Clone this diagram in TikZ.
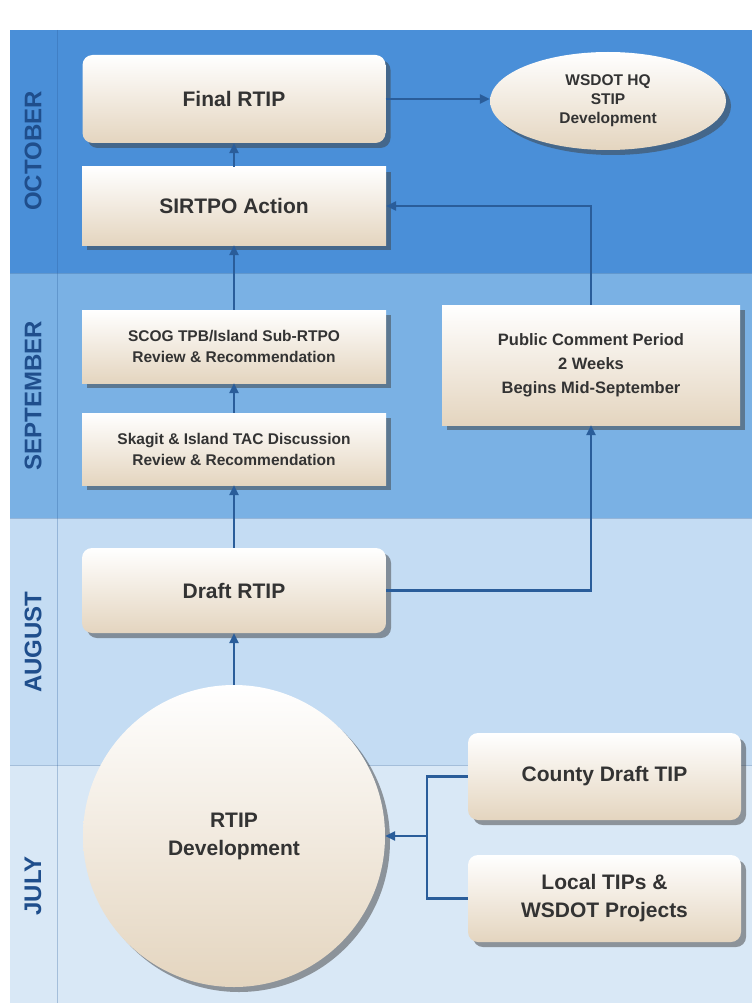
\documentclass[tikz,border=0pt]{standalone}
\usepackage{fontspec}
\setmainfont{Liberation Sans}
\usetikzlibrary{positioning,arrows.meta,shapes.geometric,shadows}
\definecolor{octblue}{HTML}{4A8FD8}
\definecolor{sepblue}{HTML}{7AB1E4}
\definecolor{augblue}{HTML}{C4DCF3}
\definecolor{julblue}{HTML}{D9E8F6}
\definecolor{monthink}{HTML}{1F4E8C}
\definecolor{flowblue}{HTML}{2A5D9A}
\definecolor{ink}{HTML}{333333}
\definecolor{beige}{HTML}{E4D5BF}

\begin{document}
\begin{tikzpicture}[
  x=1pt, y=-1pt,
  >={Triangle[length=10pt,width=9pt]},
  card/.style  ={top color=white, bottom color=beige, text=ink, align=center,
                 inner sep=0pt, font=\bfseries,
                 drop shadow={shadow xshift=5pt, shadow yshift=-5pt, opacity=.5, fill=black!75}},
  round/.style ={card, rounded corners=10pt},
  big/.style   ={font=\fontsize{21}{28}\selectfont\bfseries},
  mid/.style   ={font=\fontsize{16.5}{24}\selectfont\bfseries},
  small/.style ={font=\fontsize{15.5}{21}\selectfont\bfseries},
  month/.style ={rotate=90, text=monthink, font=\fontsize{24}{24}\selectfont\bfseries},
  flow/.style  ={->, draw=flowblue, line width=2.8pt},
  link/.style  ={draw=flowblue, line width=2.8pt},
]
  \useasboundingbox (0,0) rectangle (752,1003);

  % --- month bands ---
  \fill[octblue] (10,30)  rectangle (752,273);
  \fill[sepblue] (10,273) rectangle (752,518);
  \fill[augblue] (10,518) rectangle (752,765);
  \fill[julblue] (10,765) rectangle (752,1003);
  \draw[flowblue, opacity=.3, line width=.8pt] (57,30) -- (57,1003);
  \draw[flowblue, opacity=.3, line width=.8pt] (10,273) -- (752,273) (10,518) -- (752,518) (10,765) -- (752,765);

  \node[month] (oct) at (33,151) {OCTOBER};
  \node[month] (sep) at (33,396) {SEPTEMBER};
  \node[month] (aug) at (33,642) {AUGUST};
  \node[month] (jul) at (33,886) {JULY};

  % --- left column ---
  \node[round, big, minimum width=303pt, minimum height=88pt] (final)  at (234,99)    {Final RTIP};
  \node[card,  big, minimum width=304pt, minimum height=78pt] (sirtpo) at (234,206)   {SIRTPO Action};
  \node[card, small, minimum width=304pt, minimum height=73pt] (scog)  at (234,346.5) {SCOG TPB/Island Sub-RTPO\\Review \& Recommendation};
  \node[card, small, minimum width=304pt, minimum height=72pt] (skagit) at (234,449)  {Skagit \& Island TAC Discussion\\Review \& Recommendation};
  \node[round, big, minimum width=304pt, minimum height=85pt] (draft)  at (234,590.5) {Draft RTIP};
  \node[card, circle, big, minimum size=302pt] (rtipdev) at (234,836) {RTIP\\Development};

  % --- right column ---
  \node[card, ellipse, small, font=\fontsize{15.5}{19}\selectfont\bfseries,
        minimum width=236pt, minimum height=98pt] (wsdot) at (608,101) {WSDOT HQ\\STIP\\Development};
  \node[card, mid, minimum width=298pt, minimum height=120pt] (public) at (591,365) {Public Comment Period\\2 Weeks\\Begins Mid-September};
  \node[round, big, minimum width=273pt, minimum height=87pt] (county) at (604.5,776.5) {County Draft TIP};
  \node[round, big, minimum width=273pt, minimum height=87pt] (local)  at (604.5,898.5) {Local TIPs \&\\WSDOT Projects};

  % --- arrows ---
  \coordinate (fork) at (427,836);
  \draw[flow] (sirtpo) -- (final);
  \draw[flow] (scog)   -- (sirtpo);
  \draw[flow] (skagit) -- (scog);
  \draw[flow] (draft)  -- (skagit);
  \draw[flow] (rtipdev) -- (draft);
  \draw[flow] (final.east) -- (final.east -| wsdot.west);
  \draw[flow] (draft.east) -| (public.south);
  \draw[flow] (public.north) |- (sirtpo.east);
  \draw[link] (county.west) -| (fork);
  \draw[link] (local.west)  -| (fork);
  \draw[flow] (fork) -- (rtipdev.east);
\end{tikzpicture}
\end{document}
